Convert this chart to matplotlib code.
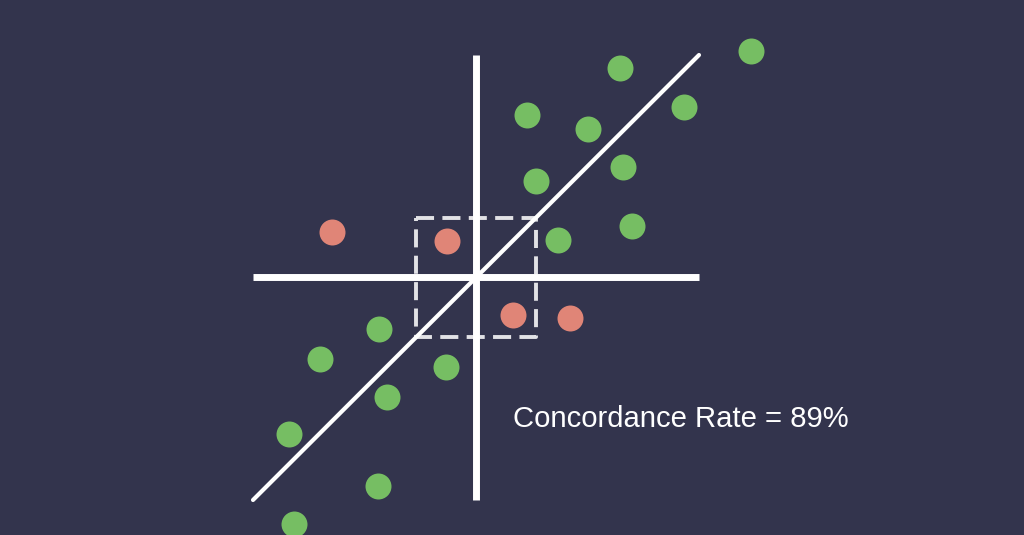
import matplotlib
matplotlib.use("Agg")
import matplotlib.pyplot as plt

# point centres (pixel coordinates, y downwards)
agree_x = [751, 620, 527, 588, 684, 623, 536, 632, 558, 379, 320, 446, 387, 289, 378, 294]
agree_y = [51, 68, 115, 129, 107, 167, 181, 226, 240, 329, 359, 367, 397, 434, 486, 524]
disagree_x = [332, 447, 513, 570]
disagree_y = [232, 241, 315, 318]

# axes cross, diagonal and the dashed box around the origin
cross_x = 476
cross_y = 277
span = (253, 699, 55, 500)
box = (416, 536, 218, 337)
label = "Concordance Rate = 89%"

bg = "#33344d"
green = "#76be63"
red = "#e08577"

plt.rcParams["lines.scale_dashes"] = False
fig = plt.figure(figsize=(10.24, 5.35), dpi=100, facecolor=bg)
ax = fig.add_axes([0, 0, 1, 1])
ax.set_facecolor(bg)
ax.set_xlim(0, 1024)
ax.set_ylim(535, 0)
ax.axis("off")

x0, x1, y0, y1 = span
ax.plot([cross_x, cross_x], [y0, y1], color="white", lw=5, solid_capstyle="butt", zorder=2)
ax.plot([x0, x1], [cross_y, cross_y], color="white", lw=5, solid_capstyle="butt", zorder=2)
ax.plot([x0, x1], [y1, y0], color="white", lw=3, solid_capstyle="round", zorder=2)

bx0, bx1, by0, by1 = box
ax.plot([bx0, bx1, bx1, bx0, bx0], [by0, by0, by1, by1, by0], color="#e2e2e6",
        lw=2.8, ls=(0, (13, 6)), zorder=1)

ax.scatter(agree_x, agree_y, s=350, color=green, linewidths=0, zorder=3)
ax.scatter(disagree_x, disagree_y, s=350, color=red, linewidths=0, zorder=3)

ax.text(513, 419, label, color="white", fontsize=21.1, family="Liberation Sans",
        ha="left", va="center")

fig.savefig("out.png", dpi=100, facecolor=bg)
